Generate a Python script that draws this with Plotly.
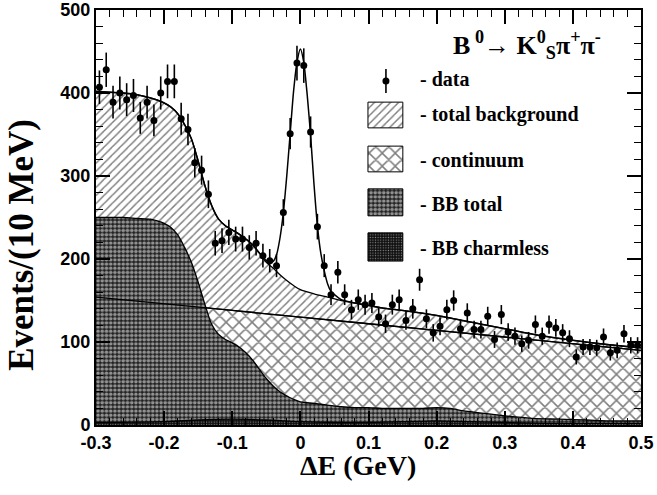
import numpy as np
import plotly.graph_objects as go

# ---------------- data ----------------
bin_centers = [round(-0.295 + 0.01 * i, 3) for i in range(80)]
counts = [407, 428, 389, 400, 392, 397, 370, 389, 367, 400,
          414, 414, 369, 356, 316, 307, 278, 219, 222, 232,
          224, 224, 214, 219, 204, 198, 192, 256, 351, 436,
          433, 353, 239, 192, 157, 184, 157, 139, 151, 145,
          147, 130, 122, 145, 151, 126, 140, 175, 128, 111,
          119, 139, 150, 116, 135, 115, 115, 131, 103, 133,
          112, 107, 98, 102, 121, 107, 121, 117, 111, 104,
          82, 94, 94, 93, 106, 87, 90, 110, 96, 96]
errors = np.sqrt(np.array(counts, dtype=float))  # Poisson errors

bg_x = [-0.30, -0.28, -0.26, -0.24, -0.22, -0.20, -0.19, -0.18, -0.17, -0.16,
        -0.15, -0.14, -0.13, -0.12, -0.11, -0.10, -0.09, -0.08, -0.07, -0.06,
        -0.05, -0.04, -0.03, -0.02, -0.01, 0.00, 0.02, 0.04, 0.06, 0.08,
        0.10, 0.12, 0.15, 0.20, 0.25, 0.30, 0.35, 0.40, 0.45, 0.50]
bg_y = [402, 401, 400, 398, 394, 388, 383, 375, 362, 345,
        318, 288, 264, 248, 240, 235, 230, 224, 217, 207,
        196, 189, 181, 174, 168, 163, 158, 154, 150, 147,
        144, 141, 138, 132, 124, 116, 108, 102, 97, 93]

fit_x = [-0.30, -0.28, -0.26, -0.24, -0.22, -0.20, -0.19, -0.18, -0.17, -0.16,
         -0.15, -0.14, -0.13, -0.12, -0.11, -0.10, -0.09, -0.08, -0.07, -0.06,
         -0.05, -0.045, -0.04, -0.035, -0.03, -0.025, -0.02, -0.015, -0.01, -0.005,
         0.0, 0.005, 0.01, 0.015, 0.02, 0.025, 0.03, 0.035, 0.04, 0.045,
         0.05, 0.06, 0.08, 0.10, 0.12, 0.15, 0.20, 0.25, 0.30, 0.35,
         0.40, 0.45, 0.50]
fit_y = [402, 401, 400, 398, 394, 388, 383, 375, 362, 345,
         318, 288, 264, 248, 240, 235, 230, 224, 217, 207,
         198, 196, 197, 205, 225, 256, 300, 351, 402, 437,
         453, 437, 398, 349, 290, 240, 207, 186, 170, 161,
         157, 151, 147, 144, 141, 138, 132, 124, 116, 108,
         102, 97, 93]

cont_x = [-0.30, -0.10, 0.10, 0.30, 0.50]
cont_y = [154, 138, 122, 106, 90]

bb_x = [-0.30, -0.28, -0.26, -0.24, -0.22, -0.21, -0.20, -0.19, -0.18, -0.17,
        -0.16, -0.15, -0.14, -0.13, -0.12, -0.11, -0.10, -0.09, -0.08, -0.07,
        -0.06, -0.05, -0.04, -0.03, -0.02, -0.01, 0.00, 0.02, 0.04, 0.06,
        0.08, 0.10, 0.12, 0.14, 0.16, 0.18, 0.20, 0.22, 0.24, 0.26,
        0.28, 0.30, 0.34, 0.38, 0.42, 0.46, 0.50]
bb_y = [250, 250, 250, 249, 248, 246, 243, 238, 229, 214,
        196, 172, 145, 121, 109, 103, 99, 94, 87, 78,
        67, 56, 47, 40, 35, 31, 28, 26, 24, 22,
        21, 21, 20, 20, 20, 20, 21, 20, 17, 15,
        13, 11, 8, 7, 6, 5, 5]

cl_x = [-0.30, -0.20, -0.15, -0.10, -0.05, 0.00, 0.05, 0.10, 0.15, 0.20, 0.25, 0.30, 0.40, 0.50]
cl_y = [3, 4, 6, 7, 6, 4, 3, 3, 4, 5, 4, 3, 2, 2]

x_tickvals = [-0.3, -0.2, -0.1, 0.0, 0.1, 0.2, 0.3, 0.4, 0.5]
x_ticktext = ["-0.3", "-0.2", "-0.1", "0", "0.1", "0.2", "0.3", "0.4", "0.5"]
y_tickvals = [0, 100, 200, 300, 400, 500]
y_ticktext = ["0", "100", "200", "300", "400", "500"]

legend_labels = ["- data", "- total background", "- continuum", "- BB total", "- BB charmless"]
x_title = "ΔE (GeV)"
y_title = "Events/(10 MeV)"
decay_title = "B<sup> 0</sup>→ K<sup>0</sup><sub>S</sub>π<sup>+</sup>π<sup>-</sup>"

# ---------------- styles ----------------
SERIF = "Liberation Serif"
SANS = "Liberation Sans"
pat_bg = dict(shape="/", size=5.7, solidity=0.25, fgcolor="black", bgcolor="white")
pat_cont = dict(shape="x", size=9.2, solidity=0.3, fgcolor="black", bgcolor="white")
pat_bb = dict(shape=".", size=4.2, solidity=0.56, fgcolor="white", bgcolor="#222222")
pat_cl = dict(shape=".", size=2.6, solidity=0.2, fgcolor="white", bgcolor="#111111")
spl = dict(color="black", width=1.3, shape="spline", smoothing=0.8)

fig = go.Figure()

fig.add_trace(go.Scatter(x=bg_x, y=bg_y, mode="lines", fill="tozeroy",
                         fillcolor="white", fillpattern=pat_bg, line=spl,
                         showlegend=False, hoverinfo="skip"))
fig.add_trace(go.Scatter(x=cont_x, y=cont_y, mode="lines", fill="tozeroy",
                         fillcolor="white", fillpattern=pat_cont, line=spl,
                         showlegend=False, hoverinfo="skip"))
fig.add_trace(go.Scatter(x=bb_x, y=bb_y, mode="lines", fill="tozeroy",
                         fillcolor="#222222", fillpattern=pat_bb, line=spl,
                         showlegend=False, hoverinfo="skip"))
fig.add_trace(go.Scatter(x=cl_x, y=cl_y, mode="lines", fill="tozeroy",
                         fillcolor="#111111", fillpattern=pat_cl, line=spl,
                         showlegend=False, hoverinfo="skip"))
# continuum line drawn again on top
fig.add_trace(go.Scatter(x=cont_x, y=cont_y, mode="lines", line=spl,
                         showlegend=False, hoverinfo="skip"))
# total fit
fig.add_trace(go.Scatter(x=fit_x, y=fit_y, mode="lines",
                         line=dict(color="black", width=1.5, shape="spline", smoothing=0.6),
                         showlegend=False, hoverinfo="skip"))
# data
fig.add_trace(go.Scatter(x=bin_centers, y=counts, mode="markers",
                         marker=dict(color="black", size=7),
                         error_y=dict(type="data", array=errors, width=0, thickness=1.6, color="black"),
                         showlegend=False))

# ---------------- hand-drawn legend on an overlay axis (0..1) ----------------
box_x0, box_x1 = 0.499, 0.563
box_rows = [(0.716, 0.778, pat_bg, "white"), (0.610, 0.672, pat_cont, "white"),
            (0.504, 0.569, pat_bb, "#222222"), (0.395, 0.463, pat_cl, "#111111")]
for y0, y1, pat, fc in box_rows:
    fig.add_trace(go.Scatter(x=[box_x0, box_x1, box_x1, box_x0, box_x0],
                             y=[y0, y0, y1, y1, y0], mode="lines", fill="toself",
                             fillcolor=fc, fillpattern=pat,
                             line=dict(color="black", width=1),
                             xaxis="x2", yaxis="y2", showlegend=False, hoverinfo="skip"))
fig.add_trace(go.Scatter(x=[0.532], y=[0.829], mode="markers",
                         marker=dict(color="black", size=7),
                         error_y=dict(type="data", array=[0.029], width=0, thickness=1.6, color="black"),
                         xaxis="x2", yaxis="y2", showlegend=False, hoverinfo="skip"))

label_y = [0.834, 0.747, 0.639, 0.533, 0.427]
for txt, ly in zip(legend_labels, label_y):
    fig.add_annotation(x=0.590, y=ly, xref="paper", yref="paper", text=txt,
                       showarrow=False, xanchor="left", yanchor="middle",
                       font=dict(family=SERIF, size=20, color="black", weight="bold"))

fig.add_annotation(x=0.652, y=0.915, xref="paper", yref="paper", text=decay_title,
                   showarrow=False, xanchor="left", yanchor="middle",
                   font=dict(family=SERIF, size=26, color="black", weight="bold"))

# axis titles as annotations for exact placement
fig.add_annotation(x=0.481, y=-0.098, xref="paper", yref="paper", text=x_title,
                   showarrow=False, xanchor="center", yanchor="middle",
                   font=dict(family=SERIF, size=28, color="black", weight="bold"))
fig.add_annotation(x=-0.136, y=0.434, xref="paper", yref="paper", text=y_title,
                   showarrow=False, xanchor="center", yanchor="middle", textangle=-90,
                   font=dict(family=SERIF, size=35, color="black", weight="bold"))

axis_common = dict(showline=True, linecolor="black", linewidth=2, mirror="allticks",
                   ticks="inside", tickcolor="black", tickwidth=1.5, ticklen=14,
                   showgrid=False, zeroline=False, automargin=False,
                   tickfont=dict(family=SANS, size=18, color="black", weight="bold"))

fig.update_layout(
    width=657, height=495,
    margin=dict(l=96, r=16, t=10, b=70),
    plot_bgcolor="white", paper_bgcolor="white",
    xaxis=dict(range=[-0.3, 0.5], tickmode="array", tickvals=x_tickvals, ticktext=x_ticktext,
               minor=dict(ticks="inside", ticklen=7, tickcolor="black", tickwidth=1,
                          tickmode="linear", tick0=-0.3, dtick=0.02),
               **axis_common),
    yaxis=dict(range=[0, 500], tickmode="array", tickvals=y_tickvals, ticktext=y_ticktext,
               minor=dict(ticks="inside", ticklen=7, tickcolor="black", tickwidth=1,
                          tickmode="linear", tick0=0, dtick=20),
               **axis_common),
    xaxis2=dict(range=[0, 1], overlaying="x", visible=False),
    yaxis2=dict(range=[0, 1], overlaying="y", visible=False),
)

# remove the page's default body margin so the figure sits at the window origin
fig.write_html("out.html", config={"displayModeBar": False},
               post_script="document.body.style.margin='0px';")
